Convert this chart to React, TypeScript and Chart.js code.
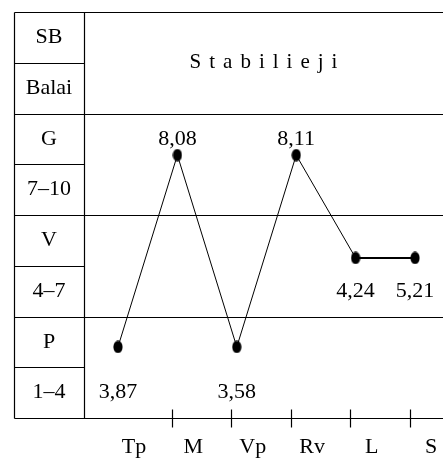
import { useEffect, useRef } from "react";
import { Chart, registerables } from "chart.js";

Chart.register(...registerables);

const categories = ["Tp", "M", "Vp", "Rv", "L", "S"];
const scores = [3.87, 8.08, 3.58, 8.11, 4.24, 5.21];
const scoreLabels = ["3,87", "8,08", "3,58", "8,11", "4,24", "5,21"];
const plottedLevels = [3.1, 8.77, 3.1, 8.77, 5.73, 5.73];
const levelNames = ["P", "V", "G"];
const levelRanges = ["1–4", "4–7", "7–10"];
const levelLowerBounds = [1, 4, 7];
const headerLeft = ["SB", "Balai"];
const headerTitle = "Stabilieji";

const FONT = '"Liberation Serif", "Times New Roman", serif';

function makeEllipse(): HTMLCanvasElement {
  const c = document.createElement("canvas");
  c.width = 10;
  c.height = 13;
  const g = c.getContext("2d")!;
  g.fillStyle = "#000";
  g.beginPath();
  g.ellipse(5, 6.5, 4.6, 6.2, 0, 0, Math.PI * 2);
  g.fill();
  return c;
}

const tablePlugin = {
  id: "tablePlugin",
  beforeDatasetsDraw(chart: any) {
    const { ctx, chartArea, scales } = chart;
    const y = scales.y;
    const W = chart.width;
    const leftX = 14.5;
    const colX = chartArea.left + 0.5;
    ctx.save();
    ctx.strokeStyle = "#000";
    ctx.lineWidth = 1.2;
    const hline = (v: number, x0: number, x1: number) => {
      const py = Math.round(y.getPixelForValue(v)) + 0.5;
      ctx.beginPath();
      ctx.moveTo(x0, py);
      ctx.lineTo(x1, py);
      ctx.stroke();
    };
    // full-width boundaries
    [1, 4, 7, 10, 13].forEach((v) => hline(v, leftX, W));
    // sub-row dividers in the left column
    [2.5, 5.5, 8.5, 11.5].forEach((v) => hline(v, leftX, colX));
    const top = Math.round(y.getPixelForValue(13)) + 0.5;
    const bot = Math.round(y.getPixelForValue(1)) + 0.5;
    [leftX, colX].forEach((x) => {
      ctx.beginPath();
      ctx.moveTo(x, top);
      ctx.lineTo(x, bot);
      ctx.stroke();
    });
    ctx.restore();
  },
  afterDraw(chart: any) {
    const { ctx, chartArea, scales } = chart;
    const x = scales.x;
    const y = scales.y;
    const leftCenter = (14 + chartArea.left) / 2;
    ctx.save();
    ctx.fillStyle = "#000";
    ctx.strokeStyle = "#000";
    ctx.textAlign = "center";
    ctx.textBaseline = "middle";
    ctx.font = `22px ${FONT}`;
    // left column labels
    ctx.fillText(headerLeft[0], leftCenter, y.getPixelForValue(12.25));
    ctx.fillText(headerLeft[1], leftCenter, y.getPixelForValue(10.75));
    levelNames.forEach((n, i) => {
      const lb = levelLowerBounds[i];
      ctx.fillText(n, leftCenter, y.getPixelForValue(lb + 2.25));
      ctx.fillText(levelRanges[i], leftCenter, y.getPixelForValue(lb + 0.75));
    });
    // header title, letter-spaced
    ctx.font = `21px ${FONT}`;
    const spacing = 8;
    const letters = headerTitle.split("");
    const widths = letters.map((l) => ctx.measureText(l).width);
    const total = widths.reduce((a, b) => a + b, 0) + spacing * (letters.length - 1);
    let cx = (chartArea.left + chart.width) / 2 - total / 2;
    ctx.textAlign = "left";
    const hy = y.getPixelForValue(11.5);
    letters.forEach((l, i) => {
      ctx.fillText(l, cx, hy);
      cx += widths[i] + spacing;
    });
    // value labels
    ctx.textAlign = "center";
    ctx.font = `22px ${FONT}`;
    const meta = chart.getDatasetMeta(0);
    scores.forEach((s, i) => {
      const lb = s >= 7 ? 7 : s >= 4 ? 4 : 1;
      const ly = s >= 7 ? y.getPixelForValue(lb + 2.25) : y.getPixelForValue(lb + 0.75);
      ctx.fillText(scoreLabels[i], meta.data[i].x, ly);
    });
    // axis ticks and category labels
    const by = Math.round(chartArea.bottom) + 0.5;
    ctx.lineWidth = 1.2;
    for (let i = 1; i < categories.length; i++) {
      const tx = Math.round(x.getPixelForValue(i - 0.09)) + 0.5;
      ctx.beginPath();
      ctx.moveTo(tx, by - 9);
      ctx.lineTo(tx, by + 9);
      ctx.stroke();
    }
    categories.forEach((c, i) => {
      ctx.fillText(c, x.getPixelForValue(i) + 16, by + 29);
    });
    ctx.restore();
  },
};

export default function App() {
  const ref = useRef<HTMLCanvasElement | null>(null);
  useEffect(() => {
    if (!ref.current) return;
    const chart = new Chart(ref.current, {
      type: "line",
      data: {
        datasets: [
          {
            data: plottedLevels.map((v, i) => ({ x: i, y: v })),
            borderColor: "#000",
            borderWidth: 1,
            pointStyle: makeEllipse() as any,
            pointRadius: 6,
            pointHoverRadius: 6,
            segment: {
              borderWidth: (c: any) => (c.p0DataIndex === 4 ? 2 : 1),
            },
          },
        ],
      },
      options: {
        responsive: false,
        animation: false,
        events: [],
        layout: { autoPadding: false, padding: { left: 84, top: 12, right: 0, bottom: 40 } },
        plugins: { legend: { display: false }, tooltip: { enabled: false } },
        scales: {
          x: { type: "linear", min: -0.572, max: 5.471, display: false },
          y: { type: "linear", min: 1, max: 13, display: false },
        },
      },
      plugins: [tablePlugin],
    });
    return () => chart.destroy();
  }, []);
  return (
    <div style={{ position: "fixed", top: 0, left: 0, width: 443, height: 458, background: "#fff" }}>
      <canvas ref={ref} width={443} height={458} />
    </div>
  );
}
